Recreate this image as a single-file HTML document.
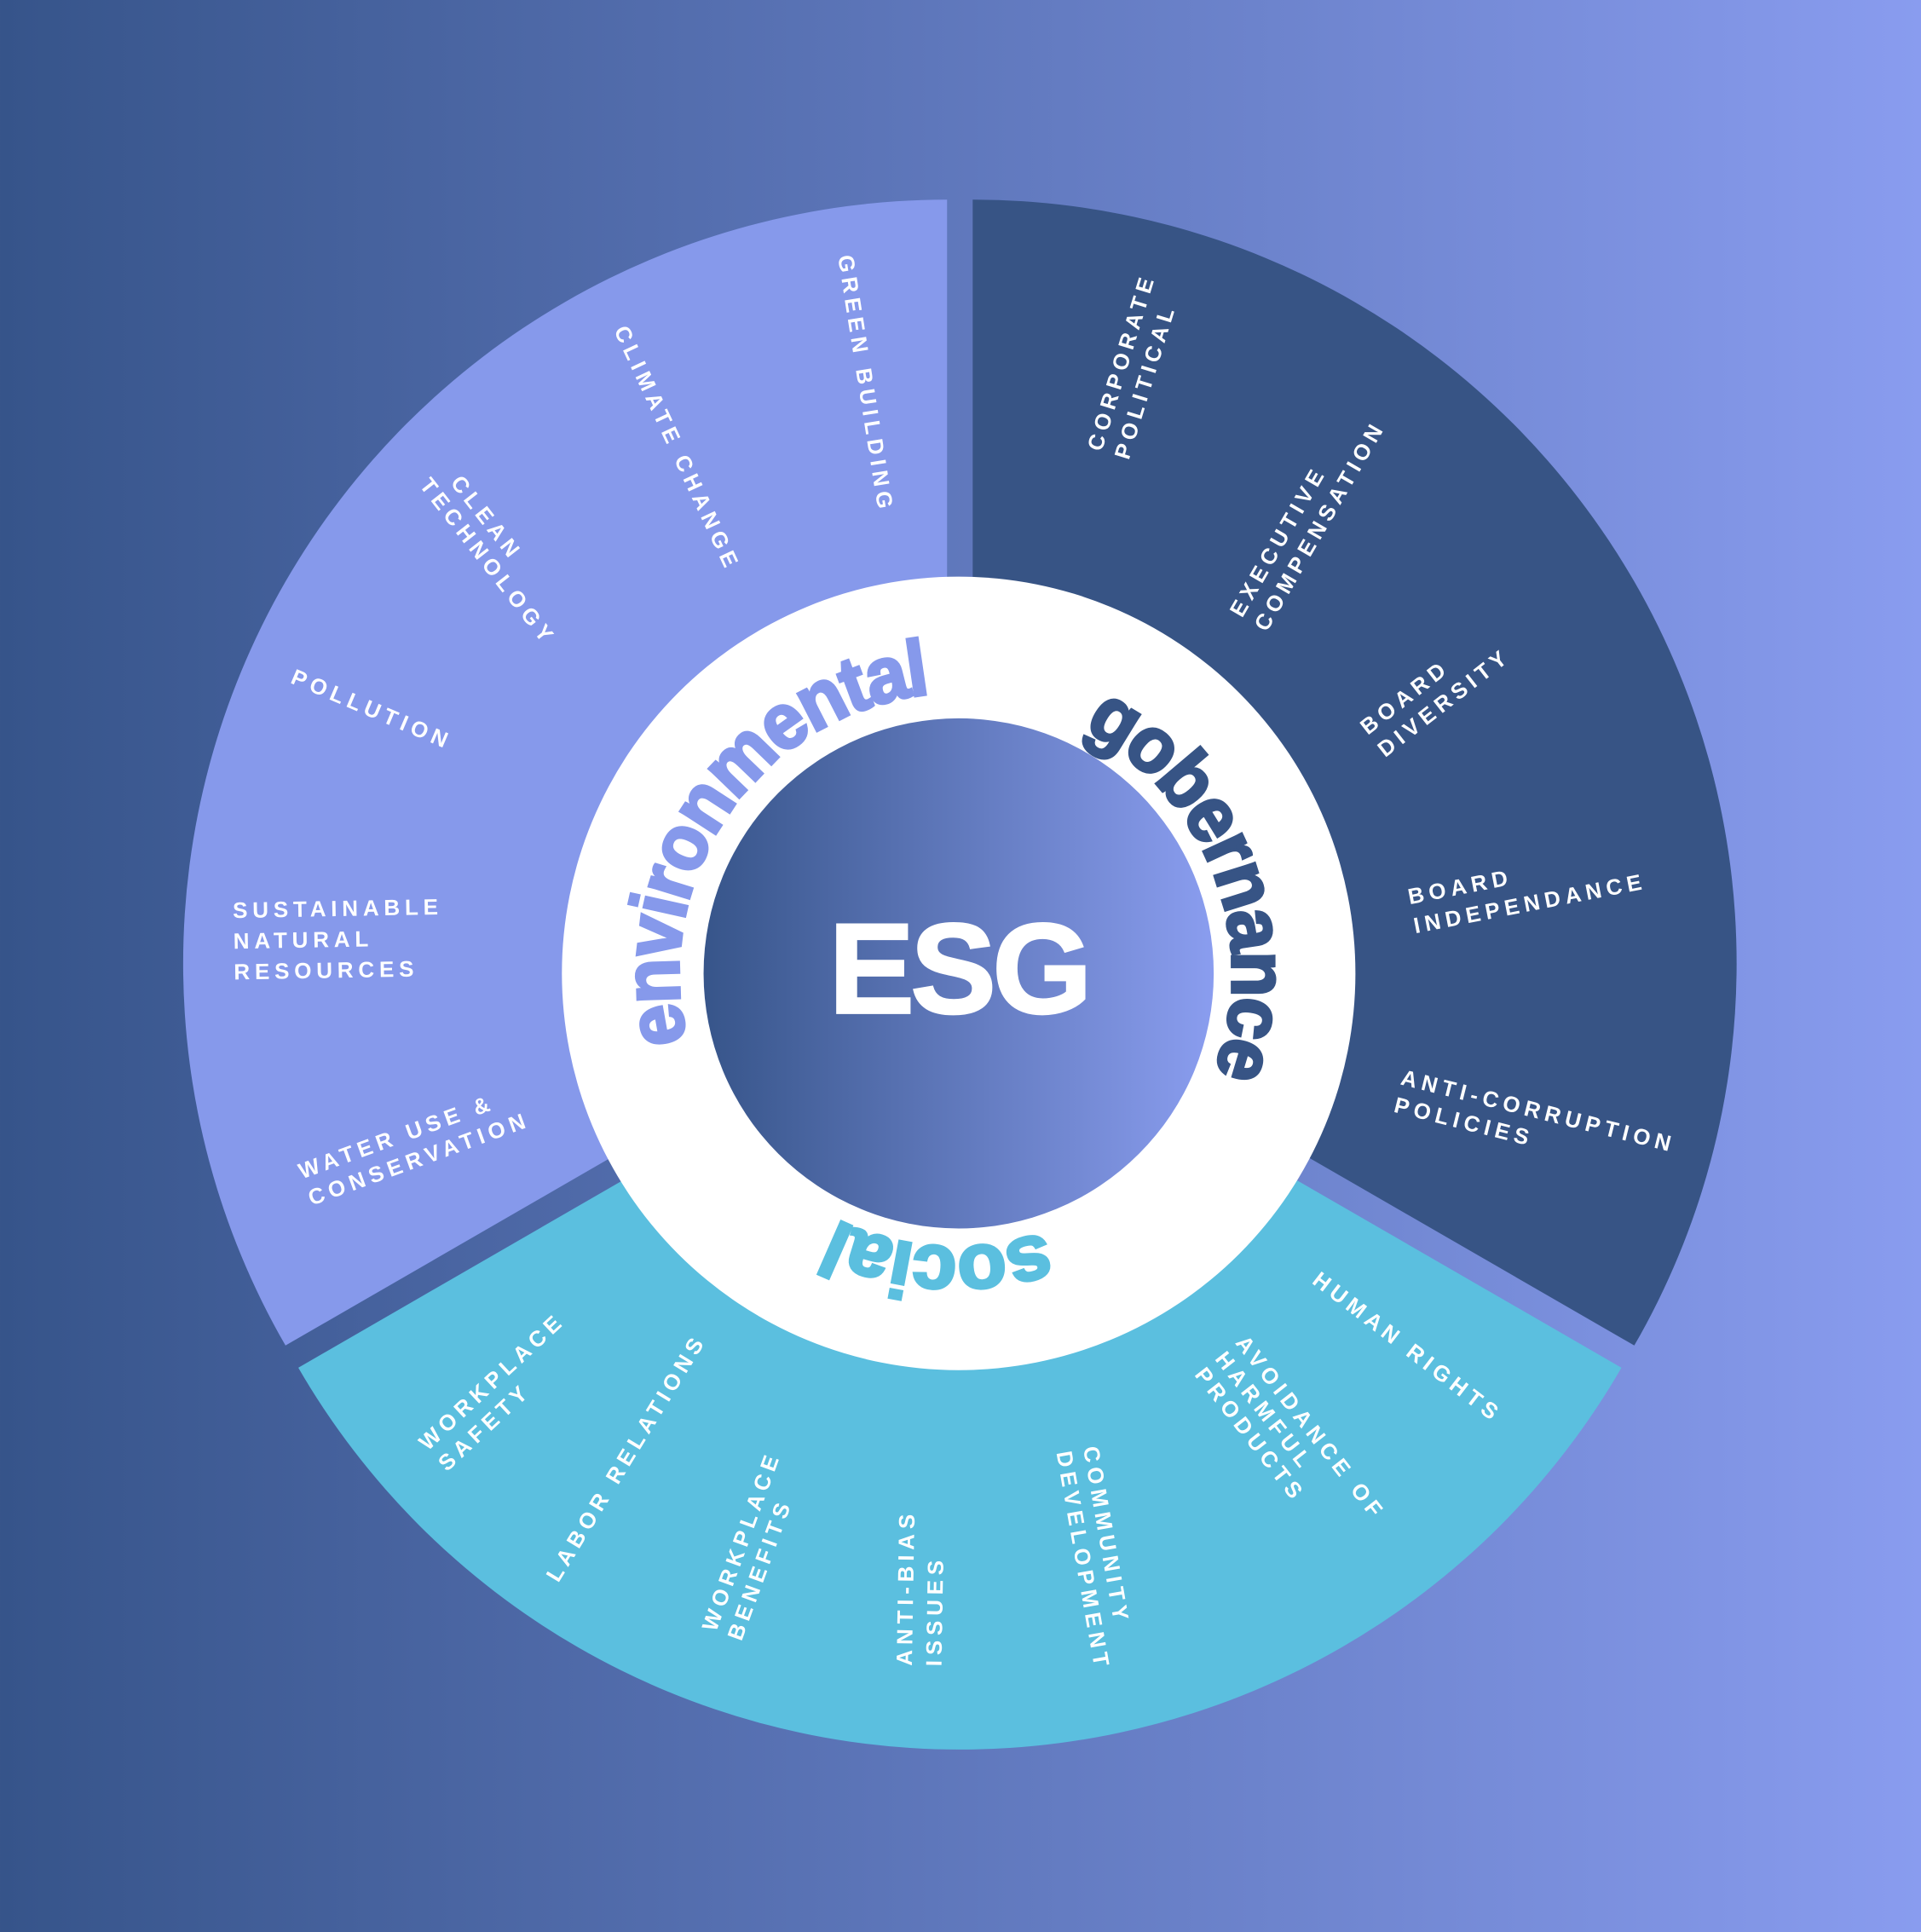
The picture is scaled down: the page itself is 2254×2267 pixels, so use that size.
<!DOCTYPE html>
<html><head><meta charset="utf-8"><style>
html,body{margin:0;padding:0;width:2254px;height:2267px;overflow:hidden}
svg{display:block}
.l{font-family:"Liberation Sans",sans-serif;font-weight:bold;font-size:18px;letter-spacing:4px;fill:#fff}
.c{font-family:"Liberation Sans",sans-serif;font-weight:bold;font-size:64px;letter-spacing:-2px;stroke-width:2.5px}
</style></head><body>
<svg width="2254" height="2267" viewBox="0 0 1559 1568" xmlns="http://www.w3.org/2000/svg">
<defs>
<linearGradient id="bg" x1="0" y1="0" x2="1" y2="0"><stop offset="0" stop-color="#36548a"/><stop offset="1" stop-color="#899cef"/></linearGradient>
<linearGradient id="ig" x1="0" y1="0" x2="1" y2="0"><stop offset="0" stop-color="#37558a"/><stop offset="1" stop-color="#8a9def"/></linearGradient>
<path id="pe" d="M557.8 845.2 A228 228 0 0 1 754.2 563.3"/>
<path id="pg" d="M878.8 592.2 A222 222 0 0 1 986.7 865.9"/>
<path id="ps" d="M848 1000 A220 220 0 0 1 680 990"/>
</defs>
<rect width="1559" height="1568" fill="url(#bg)"/>
<g transform="translate(-10.4,-6)"><path d="M779 788 L779 168 A620 620 0 0 0 242.1 1098 Z" fill="#8699eb"/></g>
<g transform="translate(10.4,-6)"><path d="M779 788 L779 168 A620 620 0 0 1 1315.9 1098 Z" fill="#375485"/></g>
<g transform="translate(0,12)"><path d="M779 788 L242.1 1098 A620 620 0 0 0 1315.9 1098 Z" fill="#5bbfdf"/></g>
<circle cx="778" cy="790" r="322" fill="#fff"/>
<circle cx="778" cy="790" r="207" fill="url(#ig)"/>
<text x="778" y="822" text-anchor="middle" font-family="Liberation Sans,sans-serif" font-weight="bold" font-size="104" letter-spacing="-3" fill="#fff" stroke="#fff" stroke-width="2">ESG</text>
<text class="c" fill="#8699eb" stroke="#8699eb"><textPath href="#pe" textLength="388" lengthAdjust="spacingAndGlyphs">environmental</textPath></text>
<text class="c" fill="#375485" stroke="#375485"><textPath href="#pg" textLength="325" lengthAdjust="spacingAndGlyphs">gobernance</textPath></text>
<text class="c" fill="#5bbfdf" stroke="#5bbfdf"><textPath href="#ps" textLength="172" lengthAdjust="spacingAndGlyphs">social</textPath></text>
<text class="l" transform="translate(680,208) rotate(81)">GREEN BUILDING</text>
<text class="l" transform="translate(498,268) rotate(65)">CLIMATE CHANGE</text>
<text class="l" transform="translate(365,392) rotate(52)">CLEAN<tspan x="-14" dy="21">TECHNOLOGY</tspan></text>
<text class="l" transform="translate(235,554) rotate(23)">POLLUTION</text>
<text class="l" transform="translate(189,745) rotate(-1)">SUSTAINABLE<tspan x="0" dy="25">NATURAL</tspan><tspan x="0" dy="25">RESOURCES</tspan></text>
<text class="l" transform="translate(245,957) rotate(-20)">WATER USE &amp;<tspan x="0" dy="23">CONSERVATION</tspan></text>
<text class="l" transform="translate(894,367) rotate(-73)">CORPORATE<tspan x="0" dy="23">POLITICAL</tspan></text>
<text class="l" transform="translate(1008,502) rotate(-60)">EXECUTIVE<tspan x="0" dy="23">COMPENSATION</tspan></text>
<text class="l" transform="translate(1110,597) rotate(-38)">BOARD<tspan x="0" dy="23">DIVERSITY</tspan></text>
<text class="l" transform="translate(1144,734) rotate(-11)">BOARD<tspan x="0" dy="24">INDEPENDANCE</tspan></text>
<text class="l" transform="translate(1136,880) rotate(14)">ANTI-CORRUPTION<tspan x="0" dy="23">POLICIES</tspan></text>
<text class="l" transform="translate(1064,1041) rotate(37.5)">HUMAN RIGHTS</text>
<text class="l" transform="translate(1002,1090) rotate(52)">AVOIDANCE OF<tspan x="0" dy="21">HARMFUL</tspan><tspan x="0" dy="21">PRODUCTS</tspan></text>
<text class="l" transform="translate(879,1175) rotate(80)">COMMUNITY<tspan x="0" dy="22">DEVELOPMENT</tspan></text>
<text class="l" transform="translate(740,1352) rotate(-89)">ANTI-BIAS<tspan x="0" dy="24">ISSUES</tspan></text>
<text class="l" transform="translate(581,1325) rotate(-70)">WORKPLACE<tspan x="0" dy="22">BENEFITS</tspan></text>
<text class="l" transform="translate(453,1285) rotate(-58.6)">LABOR RELATIONS</text>
<text class="l" transform="translate(347,1178) rotate(-43)">WORKPLACE<tspan x="0" dy="23">SAFETY</tspan></text>
</svg>
</body></html>
